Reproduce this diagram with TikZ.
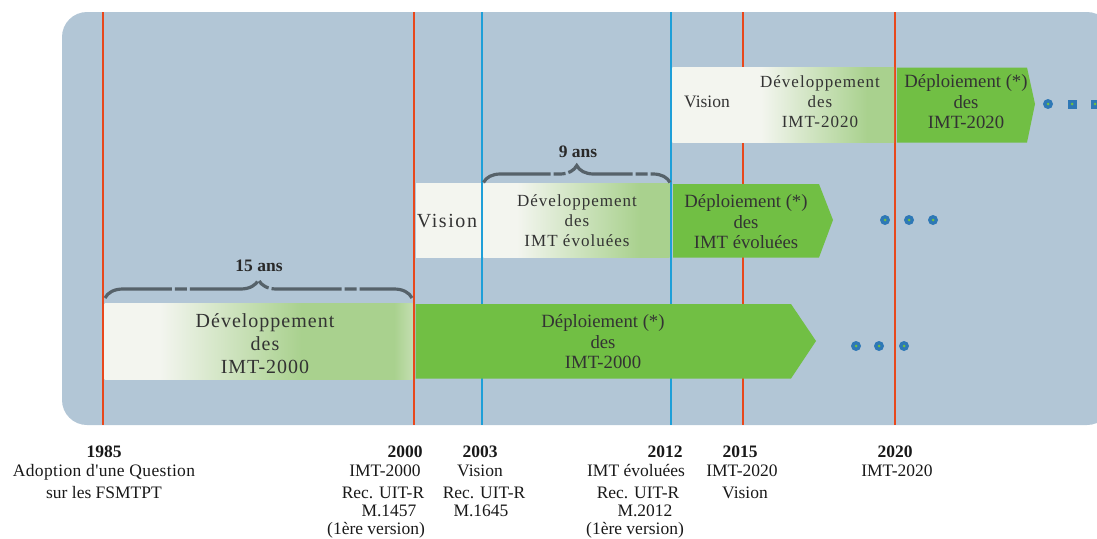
\documentclass[tikz,border=0pt]{standalone}
\usepackage{fontspec}
\setmainfont{Liberation Serif}
\newfontfamily\spacedfont[LetterSpace=6]{Liberation Serif}
\newfontfamily\widefont[LetterSpace=5]{Liberation Serif}
\newfontfamily\visfont[LetterSpace=8]{Liberation Serif}
\newfontfamily\plainfont[Ligatures=Common,LetterSpace=2]{Liberation Serif}
\usetikzlibrary{decorations.pathreplacing}
\definecolor{bgc}{HTML}{B2C6D6}
\definecolor{redl}{HTML}{E8481C}
\definecolor{bluel}{HTML}{1E9FD8}
\definecolor{devw}{HTML}{F3F5EF}
\definecolor{devg}{HTML}{A9D18E}
\definecolor{devgl}{HTML}{C3DEB0}
\definecolor{depg}{HTML}{71BF44}
\definecolor{txt}{HTML}{333333}
\definecolor{bracec}{HTML}{56626A}
\definecolor{dotb}{HTML}{2E78B6}
\pgfdeclarehorizontalshading{devA}{100bp}{color(0bp)=(devw); color(34bp)=(devw); color(57bp)=(devg); color(72bp)=(devg); color(75bp)=(devgl); color(100bp)=(devgl)}
\pgfdeclarehorizontalshading{devB}{100bp}{color(0bp)=(devw); color(34bp)=(devw); color(67bp)=(devg); color(100bp)=(devg)}
\pgfdeclarehorizontalshading{devC}{100bp}{color(0bp)=(devw); color(45bp)=(devw); color(69bp)=(devg); color(100bp)=(devg)}
\begin{document}
\begin{tikzpicture}[x=1pt,y=-1pt,
  redline/.style={draw=redl,line width=2.6pt},
  blueline/.style={draw=bluel,line width=2.4pt},
  whitebox/.style={fill=devw},
  deparrow/.style={fill=depg},
  boxtxt/.style={text=txt,align=center,inner sep=0pt,font=\fontsize{18.7}{20.5}\selectfont},
  devtxt/.style={text=txt,align=center,inner sep=0pt,font=\spacedfont\fontsize{17}{20}\selectfont},
  bigtxt/.style={text=txt,align=center,inner sep=0pt,font=\widefont\fontsize{20}{23}\selectfont},
  vistxt/.style={text=txt,align=center,inner sep=0pt,font=\visfont\fontsize{20}{23}\selectfont},
  yeartxt/.style={text=black!90,inner sep=0pt,anchor=base,font=\bfseries\fontsize{17.5}{20}\selectfont},
  lab/.style={text=black!90,inner sep=0pt,anchor=base,font=\fontsize{17.5}{20}\selectfont},
  bracetxt/.style={text=txt!80!black,inner sep=0pt,font=\bfseries\fontsize{17.5}{20}\selectfont},
  bracepath/.style={draw=bracec,line width=3.2pt,dash pattern=on 70pt off 3pt on 12pt off 3pt,
     decorate,decoration={brace,amplitude=18pt}},
  dotc/.style={fill=dotb,circle,inner sep=0pt,minimum size=10pt},
  dots/.style={fill=dotb,rectangle,inner sep=0pt,minimum size=9pt},
  dotin/.style={fill=depg,circle,inner sep=0pt,minimum size=3pt}
]
\useasboundingbox (0,0) rectangle (1097,538);
\begin{scope}
\clip (0,0) rectangle (1097,538);
\fill[bgc,rounded corners=25pt] (62,12) rectangle (1112,425);
\end{scope}

% timeline lines
\coordinate (t1985a) at (103,12); \coordinate (t1985b) at (103,425);
\coordinate (t2000a) at (414,12); \coordinate (t2000b) at (414,425);
\coordinate (t2003a) at (482,12); \coordinate (t2003b) at (482,425);
\coordinate (t2012a) at (671,12); \coordinate (t2012b) at (671,425);
\coordinate (t2015a) at (743,12); \coordinate (t2015b) at (743,425);
\coordinate (t2020a) at (895,12); \coordinate (t2020b) at (895,425);
\draw[redline] (t1985a) -- (t1985b);
\draw[redline] (t2000a) -- (t2000b);
\draw[blueline] (t2003a) -- (t2003b);
\draw[blueline] (t2012a) -- (t2012b);
\draw[redline] (t2015a) -- (t2015b);
\draw[redline] (t2020a) -- (t2020b);

% bar 1 : IMT-2000
\shade[shading=devA] (104.5,303) rectangle (412.6,379);
\fill[deparrow] (415.6,304) -- (791,304) -- (816,341) -- (791,378.5) -- (415.6,378.5) -- cycle;
\node[bigtxt] (dev1) at (265,344) {Développement\\[0pt]des\\IMT-2000};
\node[boxtxt] (dep1) at (603,342) {Déploiement (*)\\des\\IMT-2000};

% bar 2 : IMT evoluees
\fill[whitebox] (415.6,183) rectangle (480.7,257.5);
\shade[shading=devB] (483.3,183) rectangle (669.7,257.5);
\fill[deparrow] (673,184) -- (819,184) -- (833,220) -- (819,257.5) -- (673,257.5) -- cycle;
\node[vistxt] (vis2) at (447,221) {Vision};
\node[devtxt] (dev2) at (577,221) {Développement\\des\\IMT évoluées};
\node[boxtxt] (dep2) at (746,222) {Déploiement (*)\\des\\IMT évoluées};

% bar 3 : IMT-2020
\shade[shading=devC] (672.3,67.5) rectangle (894,142.5);
\fill[deparrow] (896.8,67.5) -- (1027,67.5) -- (1035,104) -- (1027,142.5) -- (896.8,142.5) -- cycle;
\node[boxtxt,font=\fontsize{17.5}{20}\selectfont] (vis3) at (707,102) {Vision};
\node[devtxt] (dev3) at (820,102) {Développement\\des\\IMT-2020};
\node[boxtxt] (dep3) at (966,102) {Déploiement (*)\\des\\IMT-2020};

% dots
\foreach \n/\x in {a/856,b/879,c/904}{\node[dotc] (d1\n) at (\x,346) {}; \node[dotin] at (d1\n) {};}
\foreach \n/\x in {a/885,b/909,c/933}{\node[dotc] (d2\n) at (\x,220) {}; \node[dotin] at (d2\n) {};}
\node[dotc] (d3a) at (1048,104) {}; \node[dotin] at (d3a) {};
\foreach \n/\x in {b/1072,c/1095}{\node[dots] (d3\n) at (\x,104) {}; \node[dotin] at (d3\n) {};}

% braces
\coordinate (b1l) at (105,298); \coordinate (b1r) at (412,298);
\draw[bracepath] (b1l) -- (b1r);
\node[bracetxt] (br1) at (259,266) {15 ans};
\coordinate (b2l) at (483.5,182.5); \coordinate (b2r) at (670,182.5);
\draw[bracepath,decoration={brace,amplitude=17pt}] (b2l) -- (b2r);
\node[bracetxt] (br2) at (578,152) {9 ans};

% years
\node[yeartxt] (y1985) at (104,457) {1985};
\node[yeartxt] (y2000) at (405,457) {2000};
\node[yeartxt] (y2003) at (480,457) {2003};
\node[yeartxt] (y2012) at (665,457) {2012};
\node[yeartxt] (y2015) at (740,457) {2015};
\node[yeartxt] (y2020) at (895,457) {2020};

% descriptions
\node[lab,font=\plainfont\fontsize{17.5}{20}\selectfont] (l1a) at (104,476) {Adoption d'une Question};
\node[lab] (l1b) at (104,498) {sur les FSMTPT};
\node[lab] (l2a) at (385,476) {IMT-2000};
\node[lab] (l2b) at (383,498) {Rec. UIT-R};
\node[lab] (l2c) at (389,516) {M.1457};
\node[lab] (l2d) at (376,534) {(1ère version)};
\node[lab] (l3a) at (480,476) {Vision};
\node[lab] (l3b) at (484,498) {Rec. UIT-R};
\node[lab] (l3c) at (481,516) {M.1645};
\node[lab] (l4a) at (636,476) {IMT évoluées};
\node[lab] (l4b) at (638,498) {Rec. UIT-R};
\node[lab] (l4c) at (645,516) {M.2012};
\node[lab] (l4d) at (635,534) {(1ère version)};
\node[lab] (l5a) at (742,476) {IMT-2020};
\node[lab] (l5b) at (745,498) {Vision};
\node[lab] (l6a) at (897,476) {IMT-2020};
\end{tikzpicture}
\end{document}
